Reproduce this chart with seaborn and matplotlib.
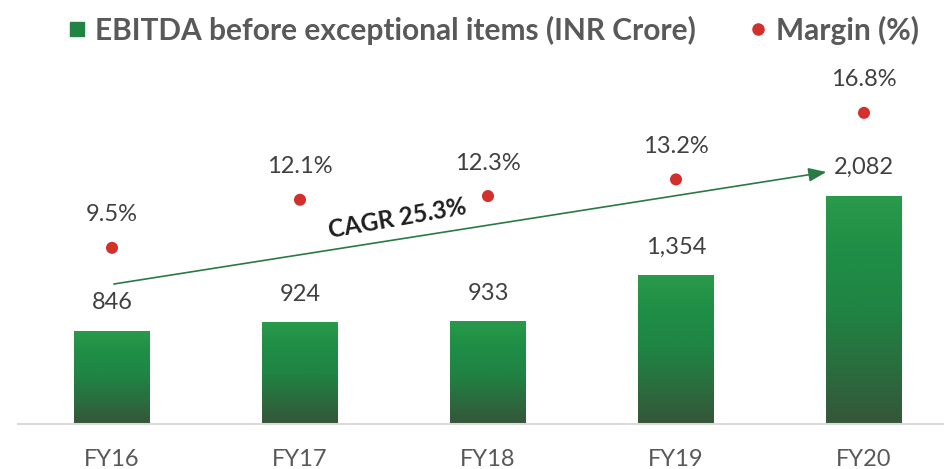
import matplotlib
matplotlib.use("Agg")
import matplotlib.pyplot as plt
import numpy as np
import pandas as pd
import seaborn as sns
from matplotlib.colors import LinearSegmentedColormap
from matplotlib.lines import Line2D

# data
years = ["FY16", "FY17", "FY18", "FY19", "FY20"]
ebitda = [846, 924, 933, 1354, 2082]
margin = [9.5, 12.1, 12.3, 13.2, 16.8]
ebitda_labels = ["846", "924", "933", "1,354", "2,082"]
margin_labels = ["9.5%", "12.1%", "12.3%", "13.2%", "16.8%"]
cagr_text = "CAGR 25.3%"

df = pd.DataFrame({"year": years, "ebitda": ebitda, "margin": margin})
df["pos"] = np.arange(len(df))

sns.set_theme(style="white")
plt.rcParams["font.family"] = ["Lato", "DejaVu Sans"]

W, H = 944, 469
fig = plt.figure(figsize=(W / 100, H / 100), dpi=100)
base_px, top_px = 423.5, 60
ax = fig.add_axes([18 / W, (H - base_px) / H, 940 / W, (base_px - top_px) / H])

sns.barplot(data=df, x="year", y="ebitda", ax=ax, width=76 / 188,
            color="#1F8A45", saturation=1)
ax.set_xlim(-0.5, 4.5)
ax.set_ylim(0, (base_px - top_px) / 0.1094)

# gradient fill for the bars
grad = LinearSegmentedColormap.from_list(
    "g", ["#35563A", "#2A6E3E", "#1F8444", "#1F8E46", "#2A9A4B"])
for p in ax.patches:
    x0, y0 = p.get_x(), p.get_y()
    w, h = p.get_width(), p.get_height()
    p.set_facecolor("none")
    p.set_edgecolor("none")
    im = ax.imshow(np.linspace(0, 1, 256).reshape(-1, 1), cmap=grad,
                   origin="lower", aspect="auto",
                   extent=[x0, x0 + w, y0, y0 + h], zorder=2)
    im.set_clip_path(p)
ax.set_xlim(-0.5, 4.5)
ax.set_ylim(0, (base_px - top_px) / 0.1094)

for i, (v, lab) in enumerate(zip(ebitda, ebitda_labels)):
    ax.annotate(lab, (i, v), xytext=(0, 28), textcoords="offset pixels",
                ha="center", va="center", fontsize=17, color="#404040")

ax2 = ax.twinx()
sns.scatterplot(data=df, x="pos", y="margin", ax=ax2, s=75,
                color="#D3302C", edgecolor="none", zorder=3)
ax2.set_ylim(0, (base_px - top_px) / 18.49)
for i, (v, lab) in enumerate(zip(margin, margin_labels)):
    ax2.annotate(lab, (i, v), xytext=(0, 33), textcoords="offset pixels",
                 ha="center", va="center", fontsize=17, color="#404040")

# CAGR arrow
ax.annotate("", xy=(3.80, 2299), xytext=(0.01, 1275),
            arrowprops=dict(arrowstyle="-|>,head_length=0.9,head_width=0.35",
                            color="#2B7A45", lw=1.2, shrinkA=0, shrinkB=0))
ax.text(1.52, 1870, cagr_text, rotation=10, ha="center", va="center",
        fontsize=17.5, fontweight="bold", color="#1E1E1E")

for a in (ax, ax2):
    for s in ("top", "left", "right"):
        a.spines[s].set_visible(False)
    a.set_ylabel("")
    a.set_xlabel("")
    a.set_yticks([])
ax2.spines["bottom"].set_visible(False)
ax.spines["bottom"].set_color("#D9D9D9")
ax.spines["bottom"].set_linewidth(1.5)
ax.tick_params(axis="x", length=0, pad=18, labelsize=17, labelcolor="#595959")

handles = [Line2D([], [], marker="s", ls="none", color="#1F8444", markersize=10),
           Line2D([], [], marker="o", ls="none", color="#D3302C", markersize=8)]
fig.legend(handles, ["EBITDA before exceptional items (INR Crore)", "Margin (%)"],
           loc="center left", bbox_to_anchor=(50 / W, 1 - 30 / H), ncol=2,
           frameon=False, prop={"size": 21.5, "weight": "bold"},
           labelcolor="#595959", handlelength=1.0, handletextpad=0.1,
           columnspacing=1.6, borderaxespad=0)

fig.savefig("out.png", dpi=100)
